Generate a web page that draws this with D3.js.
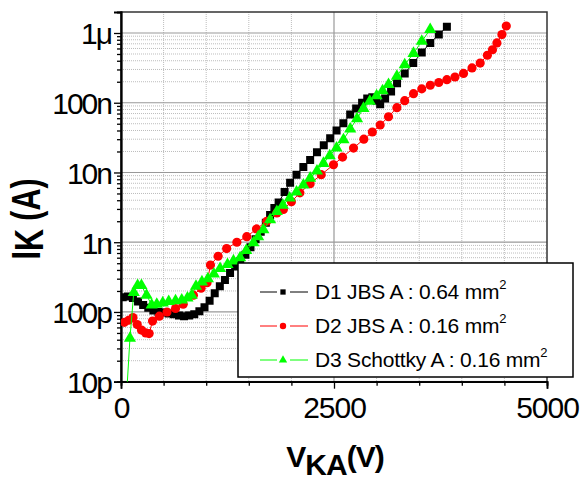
<!DOCTYPE html>
<html>
<head>
<meta charset="utf-8">
<script src="https://cdn.jsdelivr.net/npm/d3@7"></script>
<style>
  body { margin: 0; background: #fff; }
  svg { display: block; font-family: Arial, "Liberation Sans", sans-serif; }
</style>
</head>
<body>
<svg width="580" height="482"></svg>
<script>
// D1 JBS, A = 0.64 mm2 (black squares)
let d1V = [20,80,140,200,260,320,380,440,500,560,620,680,740,800,860,920,980,1040,1100,1160,1220,1280,1340,1400,1460,1520,1580,1640,1700,1750,1800,1850,1920,1985,2060,2140,2220,2300,2380,2455,2530,2610,2690,2760,2830,2890,2950,3000,3042,3100,3170,3240,3330,3430,3530,3630,3730,3825];
let d1I = [1.62e-10,1.66e-10,1.58e-10,1.41e-10,1.26e-10,1.15e-10,1.05e-10,1.0e-10,9.8e-11,9.5e-11,9.3e-11,8.9e-11,8.7e-11,8.9e-11,9.3e-11,1.02e-10,1.17e-10,1.45e-10,1.86e-10,2.34e-10,2.88e-10,3.63e-10,4.47e-10,5.37e-10,6.6e-10,8.5e-10,1.1e-9,1.41e-9,1.9e-9,2.45e-9,3.1e-9,3.7e-9,5.25e-9,7.1e-9,9.3e-9,1.2e-8,1.51e-8,1.95e-8,2.45e-8,3.1e-8,4.0e-8,5.1e-8,6.8e-8,8.3e-8,1.0e-7,1.15e-7,1.2e-7,1.07e-7,9.5e-8,1.15e-7,1.45e-7,1.9e-7,2.63e-7,3.7e-7,5.25e-7,7.2e-7,9.5e-7,1.23e-6];

// D2 JBS, A = 0.16 mm2 (red circles)
let d2V = [40,90,140,190,240,290,330,370,450,540,640,730,850,940,1010,1050,1140,1240,1360,1476,1590,1711,1830,1906,2000,2100,2220,2350,2494,2600,2729,2850,2950,3042,3140,3238,3330,3433,3530,3630,3730,3825,3920,4020,4120,4216,4300,4360,4412,4471,4522];
let d2I = [7.1e-11,7.6e-11,8.3e-11,6.6e-11,5.5e-11,5.0e-11,4.9e-11,7.4e-11,8.7e-11,1.0e-10,1.12e-10,1.29e-10,1.74e-10,2.19e-10,2.63e-10,4.7e-10,6.3e-10,8.1e-10,1.0e-9,1.2e-9,1.55e-9,2.0e-9,2.63e-9,2.95e-9,3.8e-9,5.1e-9,6.9e-9,9.3e-9,1.29e-8,1.66e-8,2.24e-8,3.0e-8,3.8e-8,4.8e-8,6.3e-8,8.5e-8,1.07e-7,1.35e-7,1.58e-7,1.78e-7,1.95e-7,2.14e-7,2.34e-7,2.63e-7,3.16e-7,3.7e-7,4.8e-7,5.75e-7,7.2e-7,9.5e-7,1.26e-6];

// D3 Schottky, A = 0.16 mm2 (green triangles)
let d3V = [60,105,150,195,240,300,360,420,490,560,640,713,780,830,880,950,1020,1090,1163,1250,1320,1398,1470,1554,1610,1671,1750,1829,1900,1980,2060,2141,2220,2300,2376,2450,2530,2611,2690,2770,2846,2920,3000,3070,3140,3238,3330,3433,3530,3629];
let d3I = [5e-12,4.2e-11,1.9e-10,2.4e-10,2.4e-10,1.74e-10,1.26e-10,1.29e-10,1.35e-10,1.41e-10,1.45e-10,1.48e-10,1.58e-10,1.74e-10,2.34e-10,2.7e-10,3.0e-10,3.5e-10,4.2e-10,4.8e-10,5.4e-10,6.0e-10,7.6e-10,9.8e-10,1.2e-9,1.51e-9,2.1e-9,2.75e-9,3.4e-9,4.3e-9,5.25e-9,6.6e-9,8.3e-9,1.05e-8,1.35e-8,1.74e-8,2.24e-8,2.95e-8,4.2e-8,5.9e-8,8.3e-8,1.05e-7,1.26e-7,1.48e-7,1.82e-7,2.4e-7,3.5e-7,5.1e-7,7.6e-7,1.12e-6];

let xTicks = [0, 2500, 5000];
let yTicks = [1e-11, 1e-10, 1e-9, 1e-8, 1e-7, 1e-6];
let yTickLabels = ["10p", "100p", "1n", "10n", "100n", "1\u03bc"];
let legendLabels = ["D1 JBS A : 0.64 mm", "D2 JBS A : 0.16 mm", "D3 Schottky A : 0.16 mm"];

let series = [
  {V: d1V, I: d1I, color: "#000000", symbol: d3.symbolSquare, size: 64, lsize: 28},
  {V: d2V, I: d2I, color: "#ff0000", symbol: d3.symbolCircle, size: 66, lsize: 32},
  {V: d3V, I: d3I, color: "#00ff00", symbol: d3.symbolTriangle, size: 64, lsize: 30}
];

let svg = d3.select("svg");
let L = 121, R = 547, T = 12, B = 381.7;

let x = d3.scaleLinear().domain([0, 5000]).range([L, R]);
let y = d3.scaleLog().domain([1e-11, 2e-6]).range([B, T]);

// grid
let minorY = [];
for (let e = -11; e <= -6; e++) {
  for (let k = 2; k <= 9; k++) {
    let v = k * Math.pow(10, e);
    if (v < 2e-6) minorY.push(v);
  }
}
let grid = svg.append("g");
grid.selectAll(".hmin").data(minorY).enter().append("line")
    .attr("x1", L).attr("x2", R)
    .attr("y1", d => y(d)).attr("y2", d => y(d))
    .attr("stroke", "#bdbdbd").attr("stroke-dasharray", "1,1");
let minorX = d3.range(500, 5000, 500).filter(d => d !== 2500);
grid.selectAll(".vmin").data(minorX).enter().append("line")
    .attr("y1", T).attr("y2", B)
    .attr("x1", d => x(d)).attr("x2", d => x(d))
    .attr("stroke", "#bdbdbd").attr("stroke-dasharray", "1,1");
grid.selectAll(".hmaj").data(yTicks.slice(1)).enter().append("line")
    .attr("x1", L).attr("x2", R)
    .attr("y1", d => y(d)).attr("y2", d => y(d))
    .attr("stroke", "#999").attr("stroke-width", 1.2);
grid.append("line")
    .attr("y1", T).attr("y2", B).attr("x1", x(2500)).attr("x2", x(2500))
    .attr("stroke", "#999").attr("stroke-width", 1.2);

// frame
svg.append("rect").attr("x", L).attr("y", T).attr("width", R - L).attr("height", B - T)
    .attr("fill", "none").attr("stroke", "#333").attr("stroke-width", 1.5);

// axes
let xAxis = svg.append("g").attr("transform", "translate(0," + B + ")")
    .call(d3.axisBottom(x).tickValues(xTicks).tickSize(7).tickPadding(8).tickFormat(d3.format("d")));
let xMinor = svg.append("g").attr("transform", "translate(0," + B + ")")
    .call(d3.axisBottom(x).tickValues(minorX).tickSize(4).tickFormat(""));
let yAxis = svg.append("g").attr("transform", "translate(" + L + ",0)")
    .call(d3.axisLeft(y).tickValues(yTicks).tickSize(7).tickPadding(3)
      .tickFormat((d, i) => yTickLabels[i]));
let yMinor = svg.append("g").attr("transform", "translate(" + L + ",0)")
    .call(d3.axisLeft(y).tickValues(minorY).tickSize(4).tickFormat(""));

[xAxis, xMinor, yAxis, yMinor].forEach(g => {
  g.select(".domain").attr("stroke", "#000").attr("stroke-width", 1.8);
  g.selectAll(".tick line").attr("stroke", "#000").attr("stroke-width", 1.3);
});
xAxis.selectAll("text").attr("font-size", 30).attr("fill", "#000")
    .attr("letter-spacing", -1).attr("dy", "0.72em");
yAxis.selectAll("text").attr("font-size", 30).attr("fill", "#000")
    .attr("letter-spacing", -2).attr("dy", "0.36em");

// data
let clip = svg.append("clipPath").attr("id", "clip")
  .append("rect").attr("x", L).attr("y", T).attr("width", R - L).attr("height", B - T);
let plot = svg.append("g").attr("clip-path", "url(#clip)");

series.forEach(s => {
  let pts = s.V.map((v, i) => [v, s.I[i]]);
  plot.append("path").datum(pts)
      .attr("fill", "none").attr("stroke", s.color).attr("stroke-width", 1)
      .attr("d", d3.line().x(d => x(d[0])).y(d => y(d[1])));
  plot.selectAll(null).data(pts).enter().append("path")
      .attr("transform", d => "translate(" + x(d[0]) + "," + y(d[1]) + ")")
      .attr("d", d3.symbol().type(s.symbol).size(s.size))
      .attr("fill", s.color);
});

// legend
let lg = svg.append("g");
lg.append("rect").attr("x", 238).attr("y", 263).attr("width", 335).attr("height", 114)
    .attr("fill", "#fff").attr("stroke", "#000").attr("stroke-width", 1.5);
series.forEach((s, i) => {
  let cy = 292 + i * 34;
  lg.append("line").attr("x1", 260).attr("x2", 277).attr("y1", cy).attr("y2", cy).attr("stroke", s.color);
  lg.append("line").attr("x1", 290).attr("x2", 308).attr("y1", cy).attr("y2", cy).attr("stroke", s.color);
  lg.append("path").attr("transform", "translate(283," + cy + ")")
      .attr("d", d3.symbol().type(s.symbol).size(s.lsize)).attr("fill", s.color);
  let t = lg.append("text").attr("x", 315).attr("y", cy + 7)
      .attr("font-size", 21).attr("letter-spacing", -0.2).attr("fill", "#000")
      .text(legendLabels[i]);
  t.append("tspan").attr("font-size", 13).attr("dy", -10).text("2");
});

// axis titles
let xt = svg.append("text").attr("x", 335).attr("y", 467).attr("text-anchor", "middle")
    .attr("font-size", 30).attr("font-weight", "bold").attr("letter-spacing", -1);
xt.append("tspan").text("V");
xt.append("tspan").attr("dy", 8).text("KA");
xt.append("tspan").attr("dy", -8).text("(V)");

let yt = svg.append("text").attr("transform", "translate(40,219) rotate(-90) scale(0.76,1)")
    .attr("text-anchor", "middle").attr("font-size", 40).attr("font-weight", "bold");
yt.append("tspan").text("I");
yt.append("tspan").attr("dy", 3).text("K");
yt.append("tspan").attr("dy", -3).text(" (A)");
</script>
</body>
</html>
